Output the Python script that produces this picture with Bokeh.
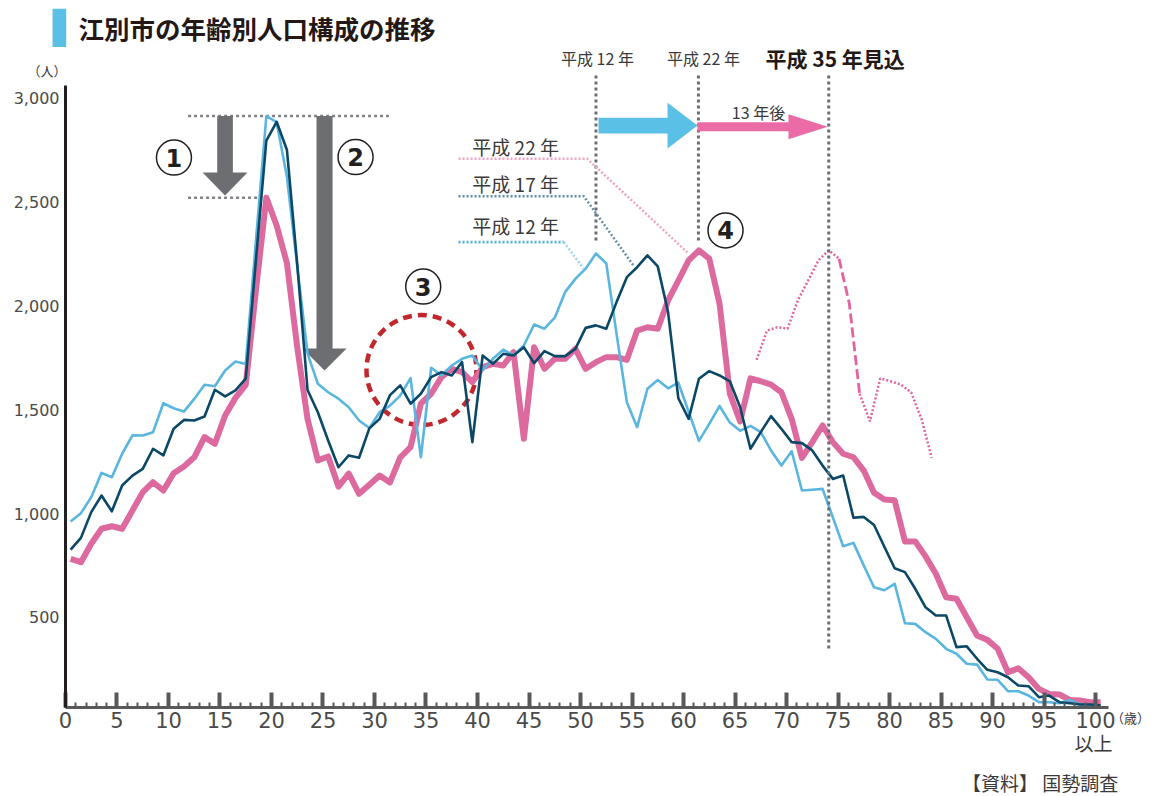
from bokeh.plotting import figure
from bokeh.models import Range1d, FixedTicker, NumeralTickFormatter, LinearAxis
from bokeh.core.properties import value
from bokeh.embed import file_html
from bokeh.resources import INLINE

# ---- data: population by single year of age (0 .. 100以上) ----
ages = list(range(0, 101))

# 平成12年 census
h12 = [962, 1002, 1079, 1196, 1175, 1288, 1377, 1376, 1392, 1531,
       1507, 1491, 1552, 1620, 1613, 1689, 1732, 1720, 2320, 2914,
       2884, 2620, 2190, 1770, 1625, 1584, 1553, 1512, 1448, 1412,
       1488, 1520, 1568, 1652, 1271, 1702, 1665, 1713, 1745, 1761,
       1690, 1745, 1789, 1761, 1809, 1910, 1890, 1943, 2066, 2130,
       2179, 2252, 2205, 1865, 1536, 1416, 1601, 1643, 1603, 1630,
       1490, 1350, 1432, 1518, 1438, 1399, 1422, 1392, 1304, 1231,
       1300, 1111, 1115, 1119, 982, 843, 859, 750, 645, 631,
       662, 472, 469, 429, 397, 349, 325, 277, 273, 201,
       200, 145, 145, 124, 92, 92, 87, 103, 81, 76, 71]

# 平成17年 census
h17 = [826, 883, 1007, 1087, 1011, 1135, 1183, 1215, 1312, 1280,
       1408, 1451, 1448, 1467, 1596, 1564, 1593, 1650, 2227, 2796,
       2886, 2750, 2200, 1595, 1488, 1352, 1223, 1280, 1269, 1410,
       1456, 1570, 1617, 1529, 1577, 1657, 1681, 1665, 1729, 1344,
       1761, 1721, 1769, 1761, 1801, 1724, 1782, 1758, 1758, 1793,
       1894, 1906, 1890, 2018, 2138, 2186, 2243, 2190, 1970, 1555,
       1456, 1649, 1686, 1665, 1637, 1512, 1312, 1392, 1469, 1408,
       1344, 1339, 1304, 1231, 1167, 1183, 980, 984, 945, 840,
       737, 718, 638, 549, 509, 509, 357, 361, 301, 248,
       236, 212, 172, 169, 116, 124, 92, 87, 81, 81, 76]

# 平成22年 census
h22 = [782, 766, 855, 927, 939, 927, 1015, 1103, 1151, 1111,
       1194, 1227, 1271, 1368, 1336, 1472, 1557, 1620, 2079, 2521,
       2387, 2205, 1800, 1455, 1256, 1275, 1130, 1192, 1095, 1139,
       1183, 1150, 1271, 1320, 1529, 1577, 1657, 1697, 1681, 1633,
       1705, 1721, 1713, 1777, 1360, 1801, 1697, 1745, 1745, 1793,
       1697, 1729, 1753, 1753, 1740, 1881, 1897, 1890, 2026, 2122,
       2219, 2267, 2227, 2010, 1577, 1444, 1651, 1637, 1621, 1584,
       1456, 1268, 1344, 1424, 1344, 1288, 1271, 1207, 1100, 1068,
       1064, 866, 866, 794, 710, 597, 590, 501, 413, 392,
       349, 236, 255, 212, 156, 132, 129, 103, 100, 92, 92]

x_ticks = list(range(0, 101, 5))
y_ticks = [500, 1000, 1500, 2000, 2500, 3000]

# the 平成22 ages 54..71 carried forward to 平成35
proj_first, proj_last = 54, 71

# ---- colours ----
C_H12 = "#5ab6de"
C_H17 = "#0b4867"
C_H22 = "#dc6a9e"
C_PROJ = "#e4639f"
C_GRAY = "#6d6e71"
C_TEXT = "#3a3a3a"
C_TICK = "#4a4a4a"
JP = value("Noto Sans CJK JP")

CENTER = 0.5          # each age is plotted at the middle of its year
PROJ_OFFSET = 12.6    # horizontal placement of the projected curve

p = figure(width=1153, height=796,
           x_range=Range1d(-6.31, 105.63), y_range=Range1d(-362, 3470),
           output_backend="svg", toolbar_location=None,
           x_axis_location=None, y_axis_location=None,
           min_border=0, min_border_left=0, min_border_right=0,
           min_border_top=0, min_border_bottom=0)
p.outline_line_color = None
p.background_fill_color = "white"
p.border_fill_color = "white"

AX_FLOOR = 66   # population value where the age axis sits
AX_TOP = 3061

xa = LinearAxis(fixed_location=AX_FLOOR, bounds=(0, 101.3),
                ticker=FixedTicker(ticks=x_ticks, minor_ticks=ages))
xa.axis_line_width = 3
xa.axis_line_color = "#58595b"
xa.major_tick_in = 15
xa.major_tick_out = 0
xa.major_tick_line_width = 4
xa.major_tick_line_color = "#58595b"
xa.minor_tick_in = 5
xa.minor_tick_out = 0
xa.minor_tick_line_width = 2
xa.minor_tick_line_color = "#58595b"
xa.major_label_text_font = "DejaVu Sans"
xa.major_label_text_font_size = "21px"
xa.major_label_text_color = C_TICK
xa.major_label_standoff = 4
p.add_layout(xa, "below")

ya = LinearAxis(fixed_location=0, bounds=(AX_FLOOR, AX_TOP),
                ticker=FixedTicker(ticks=y_ticks),
                formatter=NumeralTickFormatter(format="0,0"))
ya.axis_line_width = 3
ya.axis_line_color = "#231f20"
ya.major_tick_in = 0
ya.major_tick_out = 0
ya.minor_tick_in = 0
ya.minor_tick_out = 0
ya.major_label_text_font = "DejaVu Sans"
ya.major_label_text_font_size = "16px"
ya.major_label_text_color = C_TICK
ya.major_label_standoff = 6
p.add_layout(ya, "left")

xs = [a + CENTER for a in ages]

# ---- gray arrows ① ② : fall of the 20-year-old peak ----
peak12 = max(h12)
peak22 = max(h22)
p.segment(x0=[11.9, 11.9], y0=[peak12, peak22], x1=[31.4, 18.8], y1=[peak12, peak22],
          line_color="#808285", line_width=2.5, line_dash="3 3")


def down_arrow(xc, top, base, tip, shaft_hw, head_hw):
    return ([xc - shaft_hw, xc + shaft_hw, xc + shaft_hw, xc + head_hw, xc,
             xc - head_hw, xc - shaft_hw],
            [top, top, base, base, tip, base, base])


def right_arrow(x0, base, tip, yc, shaft_hh, head_hh):
    return ([x0, base, base, tip, base, base, x0],
            [yc + shaft_hh, yc + shaft_hh, yc + head_hh, yc, yc - head_hh,
             yc - shaft_hh, yc - shaft_hh])


ax1, ay1 = down_arrow(15.49, peak12, 2642, peak22 + 10, 0.76, 2.18)
ax2, ay2 = down_arrow(25.15, peak12, 1795, 1689, 0.78, 2.14)
p.patches([ax1, ax2], [ay1, ay2], fill_color=C_GRAY, line_color=None)

# ---- red dashed circle ③ ----
p.scatter([34.56], [1691], size=110, marker="circle", fill_color=None,
          line_color="#c1272d", line_width=4.5, line_dash="9 6")

# ---- series ----
p.line(xs, h22, line_color=C_H22, line_width=6, line_join="round")
p.line(xs, h12, line_color=C_H12, line_width=2.6, line_join="round")
p.line(xs, h17, line_color=C_H17, line_width=2.6, line_join="round")

# projected 平成35 curve
px_ = [ages[i] + CENTER + PROJ_OFFSET for i in range(proj_first, proj_last + 1)]
py_ = [h22[i] for i in range(proj_first, proj_last + 1)]
p.line(px_[:9], py_[:9], line_color=C_PROJ, line_width=2.5, line_dash="2 2")
p.line(px_[8:11], py_[8:11], line_color=C_PROJ, line_width=2.8, line_dash="10 4")
p.line(px_[10:], py_[10:], line_color=C_PROJ, line_width=2.5, line_dash="2 2")

# ---- year markers ----
p.segment(x0=[51.5, 61.45, 74.1], y0=[3109, 3109, 3109],
          x1=[51.5, 61.45, 74.1], y1=[2307, 2307, 350],
          line_color=C_GRAY, line_width=3, line_dash="3 3")

bx, by = right_arrow(51.75, 58.45, 61.36, 2868, 38, 110)
kx, ky = right_arrow(61.36, 70.19, 74.0, 2862, 22, 60)
p.patch(bx, by, fill_color="#5bc0e6", line_color=None)
p.patch(kx, ky, fill_color="#ea6ba5", line_color=None)

p.text([67.28], [2931], text=["13 年後"], text_font=JP, text_font_size="16px",
       text_color=C_TEXT, text_align="center", text_baseline="middle")

p.text([51.65, 61.94], [3191, 3191], text=["平成 12 年", "平成 22 年"],
       text_font=JP, text_font_size="16px", text_color=C_TEXT,
       text_align="center", text_baseline="middle")
p.text([67.96], [3191], text=["平成 35 年見込"], text_font=JP,
       text_font_size="21px", text_font_style="bold", text_color="#231815",
       text_align="left", text_baseline="middle")

# ---- leader lines to each census curve ----
p.line([38.16, 50.65, 60.36], [2708, 2708, 2258], line_color="#f2a2c4",
       line_width=2.5, line_dash="2 2")
p.line([38.16, 50.32, 55.15], [2528, 2528, 2194], line_color="#5f8ba3",
       line_width=2.5, line_dash="2 2")
p.line([38.16, 48.38], [2307, 2307], line_color="#4fb0de",
       line_width=2.8, line_dash="2 2")
p.line([48.38, 50.29], [2307, 2180], line_color="#9fd5ee",
       line_width=2.5, line_dash="2 2")

p.text([39.5, 39.5, 39.5], [2767, 2589, 2387],
       text=["平成 22 年", "平成 17 年", "平成 12 年"], text_font=JP,
       text_font_size="19px", text_color=C_TEXT, text_align="left",
       text_baseline="middle")

# ---- circled numbers ----
cx = [10.53, 28.16, 34.73, 64.08]
cy = [2714, 2716, 2093, 2363]
p.scatter(cx, cy, size=35, marker="circle", fill_color=None,
          line_color="#231f20", line_width=1.5)
p.text(cx, cy, text=["1", "2", "3", "4"], text_font=value("DejaVu Sans"),
       text_font_size="24px", text_font_style="bold", text_color="#231f20",
       text_align="center", text_baseline="middle")

# ---- title ----
p.quad(left=[-1.26], right=[0.07], bottom=[3246], top=[3430],
       fill_color="#5bc0e6", line_color=None)
p.text([1.26], [3340], text=["江別市の年齢別人口構成の推移"], text_font=JP,
       text_font_size="25.5px", text_font_style="bold", text_color="#231815",
       text_align="left", text_baseline="middle")

# ---- unit labels and source ----
p.text([-1.8], [3133], text=["（人）"], text_font=JP, text_font_size="13px",
       text_color=C_TEXT, text_align="center", text_baseline="middle")
p.text([103.4], [17], text=["（歳）"], text_font=JP, text_font_size="13px",
       text_color=C_TEXT, text_align="center", text_baseline="middle")
p.text([99.8], [-101], text=["以上"], text_font=JP, text_font_size="19px",
       text_color=C_TEXT, text_align="center", text_baseline="middle")
p.text([102.2], [-293], text=["【資料】 国勢調査"], text_font=JP,
       text_font_size="19px", text_color=C_TEXT, text_align="right",
       text_baseline="middle")

p.xgrid.visible = False
p.ygrid.visible = False

open("out.html", "w").write(file_html(p, INLINE))
